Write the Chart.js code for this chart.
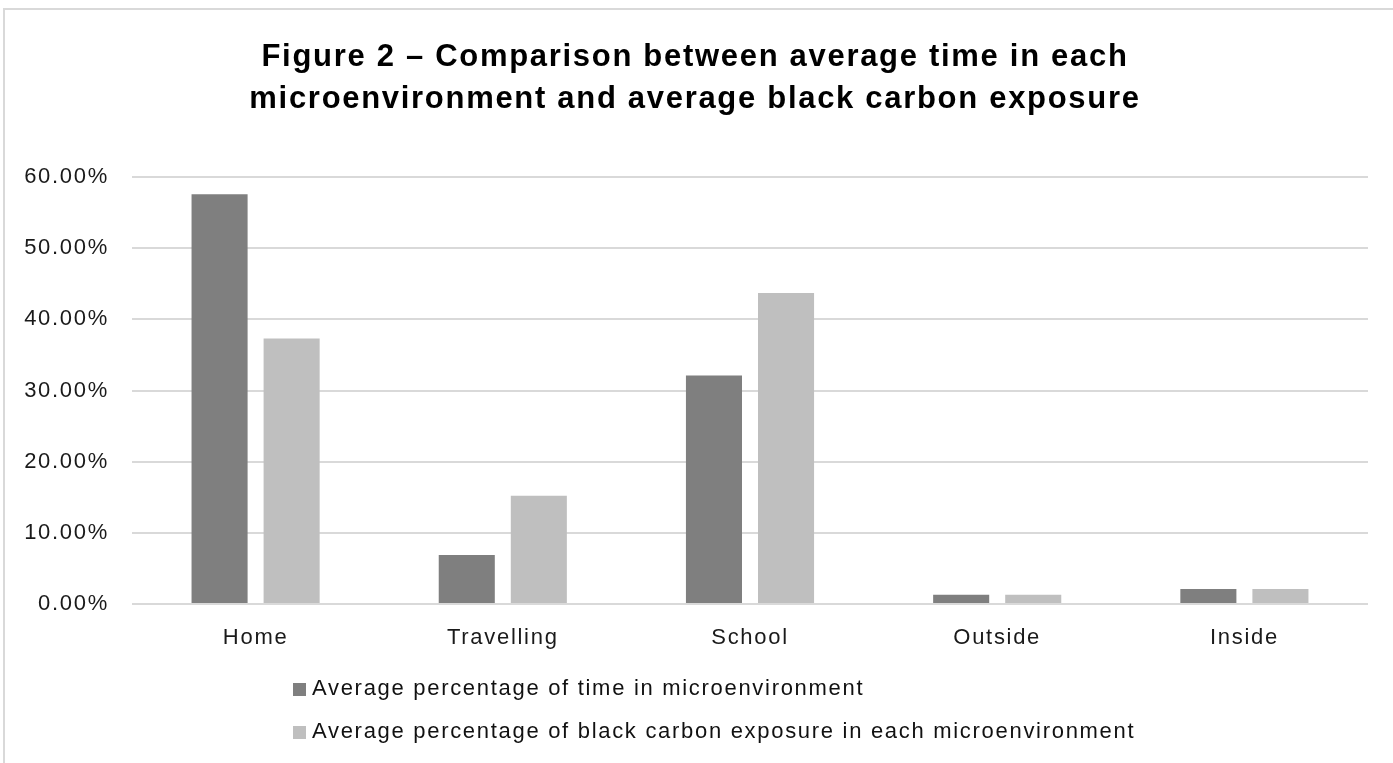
<!DOCTYPE html>
<html>
<head>
<meta charset="utf-8">
<title>Figure 2</title>
<script src="https://cdn.jsdelivr.net/npm/chart.js@4.4.1/dist/chart.umd.min.js"></script>
<style>
  html, body { margin: 0; padding: 0; background: #fff; overflow: hidden; }
  #frame { position: absolute; left: 3px; top: 8px; width: 1500px; height: 900px; border: 2px solid #d9d9d9; box-sizing: border-box; }
  #chart { position: absolute; left: 0; top: 0; }
</style>
</head>
<body>
<div id="frame"></div>
<canvas id="chart" width="1393" height="763"></canvas>
<script>
// values, in percent
const categories = ['Home', 'Travelling', 'School', 'Outside', 'Inside'];
const timeShare = [57.6, 6.9, 32.1, 1.3, 2.1];
const carbonShare = [37.3, 15.2, 43.7, 1.3, 2.1];
const seriesNames = [
  'Average percentage of time in microenvironment',
  'Average percentage of black carbon exposure in each microenvironment',
];
const titleLines = [
  'Figure 2 \u2013 Comparison between average time in each',
  'microenvironment and average black carbon exposure',
];
const yMax = 60;
const yStep = 10;

(function () {
  const FONT = '"Liberation Sans", Arial, sans-serif';
  const SPACING = '1.7px';

  // Word-exported charts have slightly expanded text, mimic it
  const spacing = {
    id: 'spacing',
    beforeUpdate(chart) { chart.ctx.letterSpacing = SPACING; },
    beforeDraw(chart) { chart.ctx.letterSpacing = SPACING; },
  };

  // legend stacked as a left-aligned list under the axis
  const listLegend = {
    id: 'listLegend',
    afterDraw(chart, args, opts) {
      const ctx = chart.ctx;
      ctx.save();
      ctx.letterSpacing = SPACING;
      ctx.font = opts.size + 'px ' + FONT;
      ctx.textBaseline = 'middle';
      ctx.textAlign = 'left';
      chart.data.datasets.forEach((ds, i) => {
        const y = opts.top + i * opts.rowGap;
        ctx.fillStyle = ds.backgroundColor;
        ctx.fillRect(opts.left, y - 6, 13, 13);
        ctx.fillStyle = opts.color;
        ctx.fillText(ds.label, opts.left + 19, y);
      });
      ctx.restore();
    },
  };

  const canvas = document.getElementById('chart');

  new Chart(canvas, {
    type: 'bar',
    data: {
      labels: categories,
      datasets: [
        { label: seriesNames[0], data: timeShare, backgroundColor: '#7f7f7f' },
        { label: seriesNames[1], data: carbonShare, backgroundColor: '#bfbfbf' },
      ],
    },
    plugins: [spacing, listLegend],
    options: {
      responsive: false,
      animation: false,
      categoryPercentage: 0.583,
      barPercentage: 0.778,
      layout: { padding: { left: 22, right: 25, top: 0, bottom: 99 } },
      plugins: {
        legend: { display: false },
        tooltip: { enabled: false },
        title: {
          display: true,
          text: titleLines,
          color: '#000',
          font: { family: FONT, size: 31, weight: 'bold', lineHeight: 1.34 },
          padding: { top: 37, bottom: 57 },
        },
        listLegend: { left: 293, top: 689, rowGap: 43, size: 22, color: '#111' },
      },
      scales: {
        y: {
          min: 0,
          max: yMax,
          afterFit: (s) => { s.width = 110; },
          grid: { color: '#d9d9d9', lineWidth: 2, drawTicks: false },
          border: { display: false },
          ticks: {
            stepSize: yStep,
            padding: 23,
            color: '#1a1a1a',
            font: { family: FONT, size: 22 },
            callback: (v) => v.toFixed(2) + '%',
          },
        },
        x: {
          afterFit: (s) => { s.height = 60; },
          grid: { display: false, drawTicks: false },
          border: { display: false },
          ticks: {
            padding: 21,
            color: '#1a1a1a',
            font: { family: FONT, size: 22 },
          },
        },
      },
    },
  });
})();
</script>
</body>
</html>
